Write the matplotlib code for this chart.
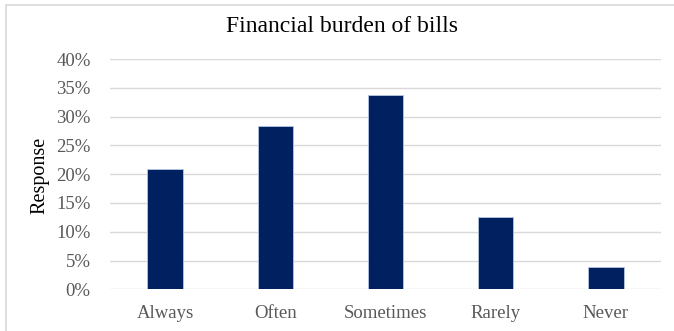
import matplotlib.pyplot as plt
from matplotlib.patches import Rectangle
from matplotlib.ticker import PercentFormatter
import numpy as np

categorias = ['Always', 'Often', 'Sometimes', 'Rarely', 'Never']
respuestas = [0.209, 0.284, 0.338, 0.126, 0.038]
marcas_y = [0, 0.05, 0.10, 0.15, 0.20, 0.25, 0.30, 0.35, 0.40]

plt.rcParams['font.family'] = ['Liberation Serif', 'DejaVu Serif']

fig = plt.figure(figsize=(6.74, 3.31), dpi=100)
ax = fig.add_axes([110 / 674, 1 - 289.3 / 331, 551 / 674, 230.3 / 331])

indice = np.arange(len(categorias))
ax.bar(indice, respuestas, width=0.32, color='#002060',
       edgecolor='#b4c7e7', linewidth=0.6, zorder=3)

ax.set_xlim(-0.5, len(categorias) - 0.5)
ax.set_ylim(0, 0.40)
ax.set_yticks(marcas_y)
ax.yaxis.set_major_formatter(PercentFormatter(1.0, decimals=0))
ax.set_xticks(indice, categorias)

ax.grid(axis='y', color='#d9d9d9', linewidth=1, zorder=0)
for s in ax.spines.values():
    s.set_visible(False)
ax.tick_params(axis='both', length=0, labelsize=13.5, labelcolor='#595959')
ax.tick_params(axis='y', pad=14)
ax.tick_params(axis='x', pad=11)

fig.text(342 / 674, 1 - 27 / 331, 'Financial burden of bills',
         ha='center', va='center', fontsize=17, color='black')
fig.text(40 / 674, 1 - 175 / 331, 'Response', rotation=90,
         ha='center', va='center', fontsize=14.5, color='black')

# marco del grafico
fig.patches.append(Rectangle((6 / 674, -0.1), 1.1, 1.1 - 5 / 331,
                             transform=fig.transFigure, fill=False,
                             edgecolor='#d9d9d9', linewidth=1.2))

fig.savefig('out.png', dpi=100)
